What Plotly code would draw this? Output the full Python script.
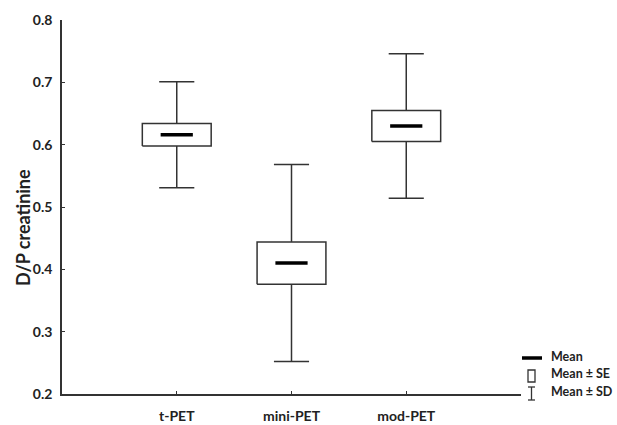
import plotly.graph_objects as go

categories = ["t-PET", "mini-PET", "mod-PET"]
means = [0.616, 0.410, 0.630]
se = [0.018, 0.034, 0.025]
sd = [0.085, 0.158, 0.116]
y_ticks = [0.2, 0.3, 0.4, 0.5, 0.6, 0.7, 0.8]

W, H = 617, 425
L, R, T, B = 62, 96, 20, 31
PW, PH = W - L - R, H - T - B

def px(x):
    return (x - L) / PW

def py(y):
    return (H - B - y) / PH

LINE = "#333333"
FONT = "Lato"
BOX_HALF = 0.3
CAP_HALF = 0.153

xs = [i + 1 for i in range(len(categories))]

# build box outlines and whiskers from the data arrays
bx, by, wx, wy = [], [], [], []
for x, m, s, d in zip(xs, means, se, sd):
    lo, hi = m - s, m + s
    bx += [x - BOX_HALF, x + BOX_HALF, x + BOX_HALF, x - BOX_HALF, x - BOX_HALF, None]
    by += [lo, lo, hi, hi, lo, None]
    wx += [x, x, None, x, x, None,
           x - CAP_HALF, x + CAP_HALF, None, x - CAP_HALF, x + CAP_HALF, None]
    wy += [hi, m + d, None, lo, m - d, None,
           m + d, m + d, None, m - d, m - d, None]

fig = go.Figure()
fig.add_trace(go.Scatter(x=wx, y=wy, mode="lines", line=dict(color=LINE, width=1.5),
                         showlegend=False, hoverinfo="skip"))
fig.add_trace(go.Scatter(x=bx, y=by, mode="lines", line=dict(color=LINE, width=1.5),
                         fill="toself", fillcolor="white", showlegend=False, hoverinfo="skip"))
fig.add_trace(go.Scatter(
    x=xs, y=means, mode="markers",
    marker=dict(symbol="line-ew", size=23, line=dict(color="black", width=3.5)),
    showlegend=False, hoverinfo="skip",
))

shapes = [
    dict(type="line", xref="paper", yref="paper", x0=px(522), x1=px(542), y0=py(358), y1=py(358),
         line=dict(color="black", width=3.5)),
    dict(type="rect", xref="paper", yref="paper", x0=px(528), x1=px(535), y0=py(370), y1=py(382),
         line=dict(color=LINE, width=1.3), fillcolor="white"),
    dict(type="line", xref="paper", yref="paper", x0=px(531.5), x1=px(531.5), y0=py(387), y1=py(400),
         line=dict(color=LINE, width=1.3)),
    dict(type="line", xref="paper", yref="paper", x0=px(528), x1=px(535), y0=py(387), y1=py(387),
         line=dict(color=LINE, width=1.3)),
    dict(type="line", xref="paper", yref="paper", x0=px(528), x1=px(535), y0=py(400), y1=py(400),
         line=dict(color=LINE, width=1.3)),
]
legend_texts = [("Mean", 356), ("Mean ± SE", 373), ("Mean ± SD", 391)]
annotations = [
    dict(text="<b>%s</b>" % t, xref="paper", yref="paper", x=px(549), y=py(yy),
         xanchor="left", yanchor="middle", showarrow=False,
         font=dict(family=FONT, size=12.5, color="#222222"))
    for t, yy in legend_texts
]
annotations.append(dict(
    text="<b>D/P creatinine</b>", xref="paper", yref="paper", x=px(23), y=py(228),
    xanchor="center", yanchor="middle", textangle=-90, showarrow=False,
    font=dict(family=FONT, size=18, color="#222222"),
))

fig.update_layout(
    width=W, height=H,
    margin=dict(l=L, r=R, t=T, b=B, autoexpand=False),
    paper_bgcolor="white", plot_bgcolor="white",
    shapes=shapes, annotations=annotations,
    font=dict(family=FONT, color="#222222"),
    xaxis=dict(
        range=[0, 4], tickvals=[0, 1, 2, 3, 4],
        ticktext=[""] + ["<b>%s</b>" % c for c in categories] + [""],
        showline=True, linecolor=LINE, linewidth=1.5,
        ticks="inside", ticklen=3, tickcolor=LINE, tickwidth=1,
        showgrid=False, zeroline=False, automargin=False,
        tickfont=dict(family=FONT, size=14, color="#222222"),
        ticklabelstandoff=8,
    ),
    yaxis=dict(
        range=[0.2, 0.8], tickvals=y_ticks,
        ticktext=["<b>%.1f</b>" % v for v in y_ticks],
        showline=True, linecolor=LINE, linewidth=1.5,
        ticks="inside", ticklen=3, tickcolor=LINE, tickwidth=1,
        showgrid=False, zeroline=False, automargin=False,
        tickfont=dict(family=FONT, size=14, color="#222222"),
        ticklabelstandoff=5,
    ),
)

fig.write_html("out.html", config={"displayModeBar": False},
               post_script="document.body.style.margin='0';")
